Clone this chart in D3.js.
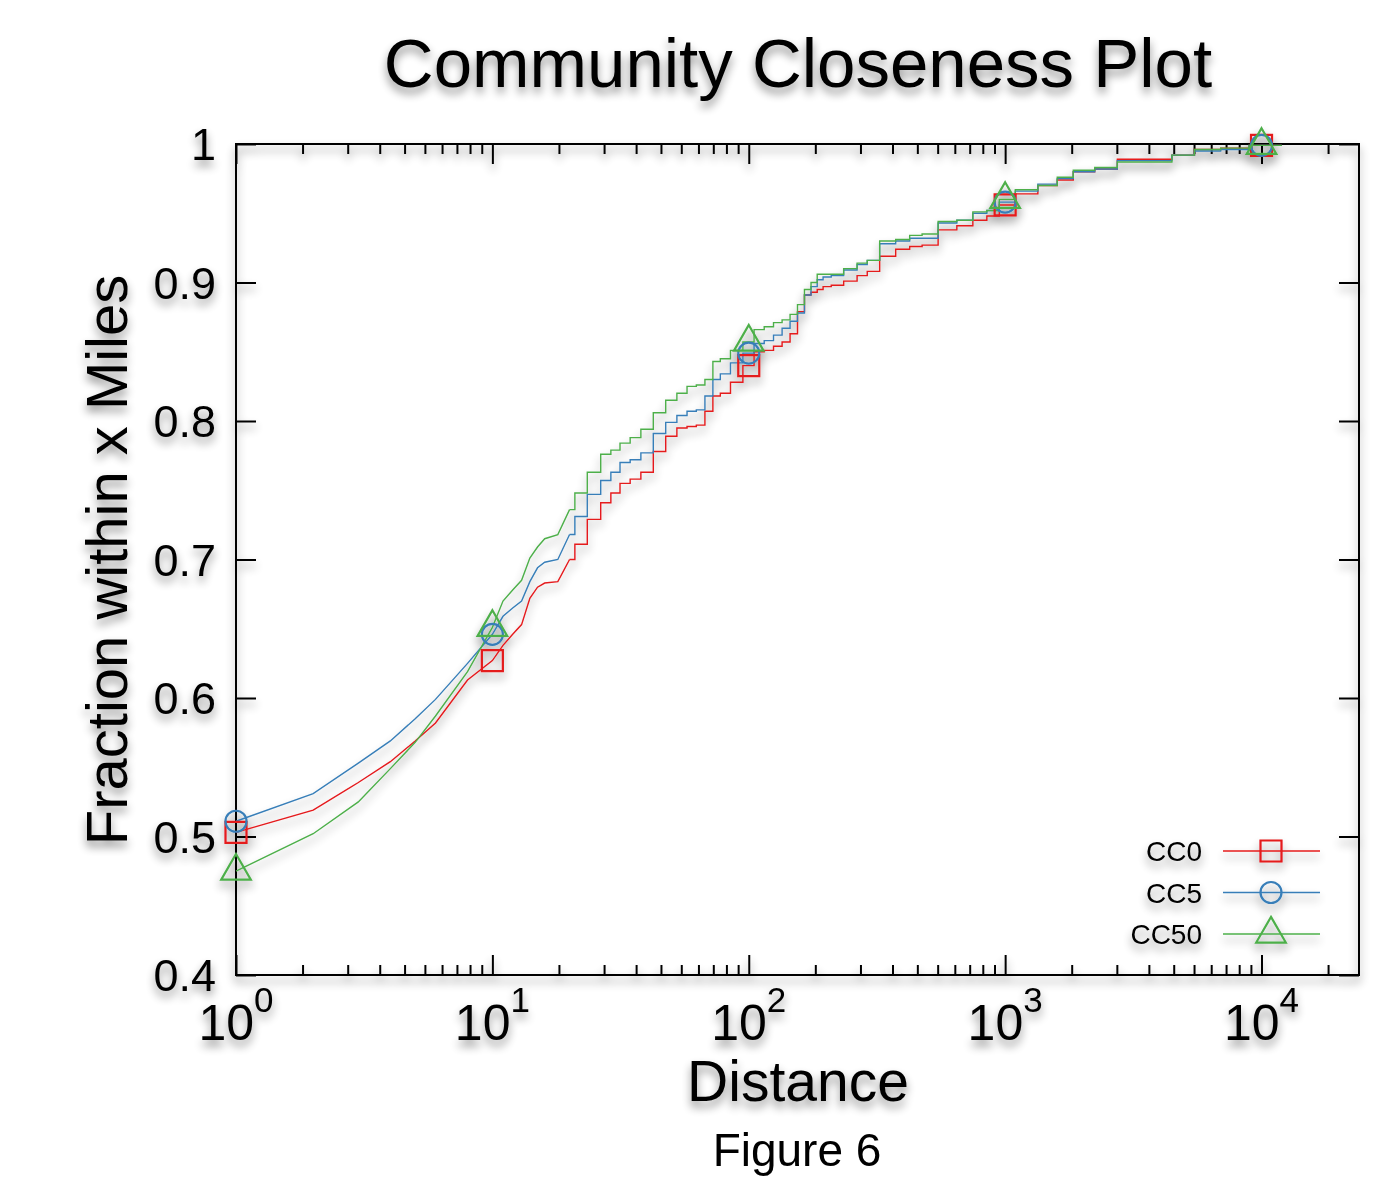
<!DOCTYPE html>
<html>
<head>
<meta charset="utf-8">
<script src="https://cdn.jsdelivr.net/npm/d3@7"></script>
<style>
  html, body { margin: 0; padding: 0; background: #fff; }
  svg { display: block; }
  text { font-family: "Liberation Sans", Arial, Helvetica, sans-serif; fill: #000; }
</style>
</head>
<body>
<svg id="chart" width="1391" height="1178"></svg>
<script>
// Distances (miles) at which the cumulative fractions were sampled
const distances = [1,2,3,4,5,6,8,
  10,11,12,13,14,15,16,18,20,22,25,28,30,33,36,40,45,50,55,60,65,70,75,80,90,
  100,110,120,130,140,150,160,170,180,190,200,220,250,280,300,350,400,450,500,600,700,800,900,
  1000,1200,1500,1700,2000,2500,3000,4000,5000,6000,8000,10000,12000];

// Fraction of pairs within x miles, one list per community threshold
const cc0 = [0.503,0.519,0.539,0.554,0.569,0.582,0.613,
  0.627,0.638,0.646,0.653,0.672,0.680,0.683,0.684,0.700,0.711,0.729,0.741,0.748,0.755,0.758,0.763,0.778,0.789,0.795,0.796,0.797,0.807,0.818,0.820,0.828,
  0.840,0.850,0.851,0.854,0.857,0.863,0.879,0.891,0.893,0.895,0.897,0.898,0.901,0.905,0.908,0.919,0.924,0.926,0.927,0.938,0.941,0.945,0.948,
  0.956,0.964,0.970,0.974,0.980,0.982,0.989,0.989,0.992,0.996,0.997,0.999,0.999];
const cc5 = [0.511,0.531,0.553,0.569,0.585,0.599,0.625,
  0.646,0.659,0.665,0.670,0.684,0.694,0.698,0.700,0.718,0.731,0.747,0.757,0.763,0.770,0.772,0.777,0.791,0.799,0.804,0.807,0.808,0.818,0.830,0.834,0.842,
  0.849,0.856,0.858,0.862,0.867,0.872,0.878,0.891,0.897,0.902,0.904,0.905,0.909,0.913,0.916,0.928,0.930,0.932,0.932,0.943,0.945,0.950,0.952,
  0.958,0.966,0.971,0.975,0.980,0.982,0.988,0.988,0.992,0.995,0.996,0.999,0.999];
const cc50 = [0.475,0.502,0.525,0.549,0.568,0.587,0.619,
  0.651,0.670,0.678,0.685,0.701,0.709,0.715,0.718,0.736,0.748,0.763,0.776,0.779,0.784,0.788,0.794,0.806,0.815,0.820,0.825,0.826,0.830,0.843,0.845,0.851,
  0.857,0.866,0.868,0.871,0.873,0.877,0.884,0.895,0.900,0.906,0.906,0.906,0.910,0.914,0.916,0.930,0.931,0.934,0.935,0.944,0.945,0.951,0.952,
  0.960,0.967,0.970,0.976,0.981,0.983,0.987,0.987,0.992,0.996,0.997,0.999,0.999];

const seriesNames = ["CC0", "CC5", "CC50"];
const seriesColors = ["#e41a1c", "#377eb8", "#4daf4a"];
const seriesShapes = ["square", "circle", "triangle"];

// Distances where point symbols are drawn
const markerDistances = [1, 10, 100, 1000, 10000];

// Axis ticks
const xMajorTicks = [1, 10, 100, 1000, 10000];
const xMinorSteps = [1.818, 2.727, 3.636, 4.545, 5.455, 6.364, 7.273, 8.182, 9.091];
const yTicks = [0.4, 0.5, 0.6, 0.7, 0.8, 0.9, 1];
const yTickLabels = ["0.4", "0.5", "0.6", "0.7", "0.8", "0.9", "1"];
const xExponents = ["0", "1", "2", "3", "4"];

const titleText = "Community Closeness Plot";
const xLabel = "Distance";
const yLabel = "Fraction within x Miles";
const caption = "Figure 6";

const plot = { left: 236, right: 1359, top: 144, bottom: 975 };

const svg = d3.select("#chart");

// Soft grey drop shadow used throughout the figure
const defs = svg.append("defs");
const f = defs.append("filter").attr("id", "shadow")
  .attr("x", "-20%").attr("y", "-20%").attr("width", "140%").attr("height", "140%");
f.append("feGaussianBlur").attr("in", "SourceAlpha").attr("stdDeviation", 5).attr("result", "blur");
f.append("feOffset").attr("in", "blur").attr("dx", 0).attr("dy", 6).attr("result", "off");
f.append("feComponentTransfer").attr("in", "off").attr("result", "soft")
  .append("feFuncA").attr("type", "linear").attr("slope", 0.45);
const m = f.append("feMerge");
m.append("feMergeNode").attr("in", "soft");
m.append("feMergeNode").attr("in", "SourceGraphic");

const x = d3.scaleLog().domain([1, 24000]).range([plot.left, plot.right]);
const y = d3.scaleLinear().domain([0.4, 1]).range([plot.bottom, plot.top]);

const g = svg.append("g").attr("filter", "url(#shadow)");

// Frame
g.append("rect")
  .attr("x", plot.left).attr("y", plot.top)
  .attr("width", plot.right - plot.left).attr("height", plot.bottom - plot.top)
  .attr("fill", "none").attr("stroke", "#000").attr("stroke-width", 2);

// Minor x ticks (ten linear subdivisions per decade)
const xMinorTicks = [];
xMajorTicks.forEach(d => xMinorSteps.forEach(s => {
  const v = d * s;
  if (v < x.domain()[1]) xMinorTicks.push(v);
}));

function styleAxis(sel) {
  sel.select(".domain").remove();
  sel.selectAll(".tick line").attr("stroke", "#000").attr("stroke-width", 2);
  sel.selectAll(".tick text").remove();
}

g.append("g").attr("transform", `translate(0,${plot.bottom})`)
  .call(d3.axisBottom(x).tickValues(xMajorTicks).tickSize(-20).tickFormat(""))
  .call(styleAxis);
g.append("g").attr("transform", `translate(0,${plot.bottom})`)
  .call(d3.axisBottom(x).tickValues(xMinorTicks).tickSize(-10).tickFormat(""))
  .call(styleAxis);
g.append("g").attr("transform", `translate(0,${plot.top})`)
  .call(d3.axisTop(x).tickValues(xMajorTicks).tickSize(-20).tickFormat(""))
  .call(styleAxis);
g.append("g").attr("transform", `translate(0,${plot.top})`)
  .call(d3.axisTop(x).tickValues(xMinorTicks).tickSize(-10).tickFormat(""))
  .call(styleAxis);
g.append("g").attr("transform", `translate(${plot.left},0)`)
  .call(d3.axisLeft(y).tickValues(yTicks).tickSize(-20).tickFormat(""))
  .call(styleAxis);
g.append("g").attr("transform", `translate(${plot.right},0)`)
  .call(d3.axisRight(y).tickValues(yTicks).tickSize(-20).tickFormat(""))
  .call(styleAxis);

// Y tick labels
g.append("g").selectAll("text").data(yTicks).join("text")
  .attr("x", plot.left - 20)
  .attr("y", d => y(d) + 16)
  .attr("text-anchor", "end")
  .attr("font-size", 45)
  .text((d, i) => yTickLabels[i]);

// X tick labels as powers of ten
const xl = g.append("g").selectAll("text").data(xMajorTicks).join("text")
  .attr("x", d => x(d))
  .attr("y", plot.bottom + 65)
  .attr("text-anchor", "middle")
  .attr("font-size", 50);
xl.append("tspan").text("10");
xl.append("tspan").attr("dy", -28).attr("font-size", 35).text((d, i) => xExponents[i]);

// Series lines: straight segments over the first miles, stepped beyond
const series = [cc0, cc5, cc50].map((vals, i) => ({
  name: seriesNames[i],
  color: seriesColors[i],
  shape: seriesShapes[i],
  points: distances.map((d, j) => ({ d, v: vals[j] }))
}));

const lineNear = d3.line().x(p => x(p.d)).y(p => y(p.v)).curve(d3.curveLinear);
const lineFar = d3.line().x(p => x(p.d)).y(p => y(p.v)).curve(d3.curveStep);

const lines = g.append("g").attr("fill", "none").attr("stroke-width", 1.4);
series.forEach(s => {
  lines.append("path").attr("stroke", s.color).attr("d", lineNear(s.points.filter(p => p.d <= 20)));
  lines.append("path").attr("stroke", s.color).attr("d", lineFar(s.points.filter(p => p.d >= 20)));
});

// Point symbols
function symbolPath(shape) {
  if (shape === "square") return d3.symbol(d3.symbolSquare, 441)();
  if (shape === "circle") return d3.symbol(d3.symbolCircle, 346)();
  return d3.symbol(d3.symbolTriangle, 380)();
}

const marks = g.append("g").attr("fill", "none").attr("stroke-width", 2.2);
series.forEach(s => {
  marks.selectAll(null)
    .data(s.points.filter(p => markerDistances.includes(p.d)))
    .join("path")
    .attr("transform", p => `translate(${x(p.d)},${y(p.v)})`)
    .attr("d", symbolPath(s.shape))
    .attr("stroke", s.color);
});

// Legend
const legend = g.append("g");
series.forEach((s, i) => {
  const ly = 851 + i * 41.5;
  legend.append("text")
    .attr("x", 1202).attr("y", ly + 10)
    .attr("text-anchor", "end")
    .attr("font-size", 28)
    .text(s.name);
  legend.append("line")
    .attr("x1", 1223).attr("x2", 1320).attr("y1", ly).attr("y2", ly)
    .attr("stroke", s.color).attr("stroke-width", 1.4);
  legend.append("path")
    .attr("transform", `translate(1271,${ly})`)
    .attr("d", symbolPath(s.shape))
    .attr("fill", "none").attr("stroke", s.color).attr("stroke-width", 2.2);
});

// Titles
g.append("text")
  .attr("x", 798).attr("y", 87)
  .attr("text-anchor", "middle")
  .attr("font-size", 69)
  .text(titleText);

g.append("text")
  .attr("x", 798).attr("y", 1101)
  .attr("text-anchor", "middle")
  .attr("font-size", 57)
  .text(xLabel);

g.append("text")
  .attr("transform", "translate(127,560) rotate(-90)")
  .attr("text-anchor", "middle")
  .attr("font-size", 58)
  .text(yLabel);

svg.append("text")
  .attr("x", 797).attr("y", 1166)
  .attr("text-anchor", "middle")
  .attr("font-size", 46)
  .text(caption);
</script>
</body>
</html>
